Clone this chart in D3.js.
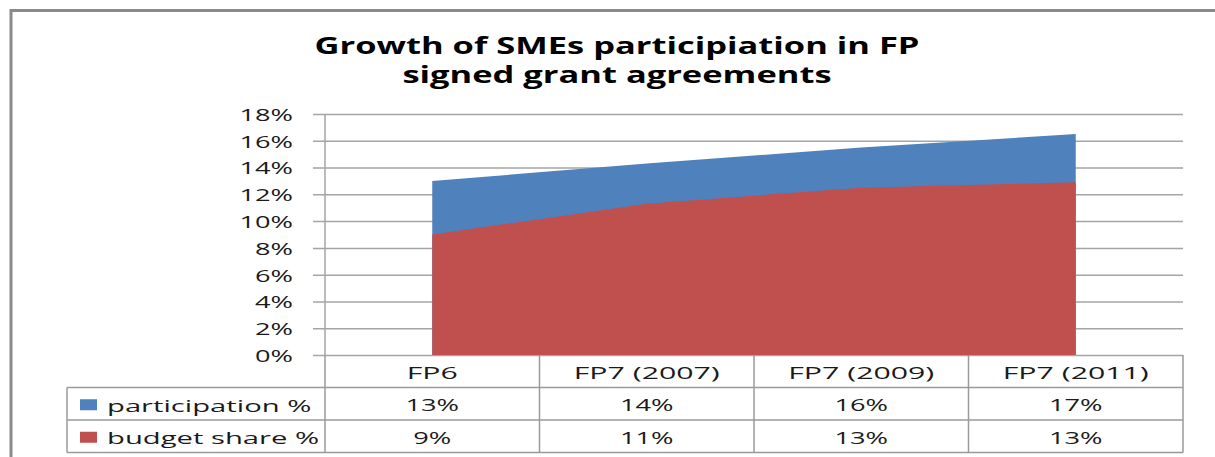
<!DOCTYPE html>
<html>
<head>
<meta charset="utf-8">
<script src="https://cdn.jsdelivr.net/npm/d3@7"></script>
<style>
  html, body { margin: 0; padding: 0; background: #fff; }
  svg { display: block; }
  text { font-family: "Open Sans", "Noto Sans", sans-serif; fill: #1a1a1a; }
</style>
</head>
<body>
<svg id="chart" width="1215" height="457"></svg>
<script>
// ---- data ----
const categories = ["FP6", "FP7 (2007)", "FP7 (2009)", "FP7 (2011)"];
const participation = [13.0, 14.3, 15.5, 16.5];
const budgetShare = [9.0, 11.3, 12.5, 12.9];
const seriesNames = ["participation %", "budget share %"];
const yTicks = [0, 2, 4, 6, 8, 10, 12, 14, 16, 18];
const titleLines = ["Growth of SMEs participiation in FP", "signed grant agreements"];

// ---- layout ----
const svg = d3.select("#chart");
const W = 1215, H = 457;
const plot = { left: 325, right: 1183, top: 114, bottom: 355 };
const table = { legendLeft: 67, rowH: 32.5 };
const colors = ["#4F81BD", "#C0504D"];
const gridColor = "#a5a5a5";
const tableColor = "#9a9a9a";
const SX_NUM = 1.6;   // horizontal stretch of numeric labels
const SX_SER = 1.72;  // stretch of series names
const SX_CAT = 1.78;  // stretch of category names
const TSX = 1.5;      // stretch for the title

function stretchedText(parent, x, y, str, opts) {
  const o = Object.assign({ size: 17, anchor: "middle", sx: SX_NUM, weight: "normal", baseline: "central" }, opts || {});
  return parent.append("text")
    .attr("transform", `translate(${x},${y}) scale(${o.sx},1)`)
    .attr("text-anchor", o.anchor)
    .attr("dominant-baseline", o.baseline)
    .style("font-size", o.size + "px")
    .style("font-weight", o.weight)
    .text(str);
}

// outer frame (extends past the picture right/bottom)
svg.append("rect")
  .attr("x", 11).attr("y", 10.5)
  .attr("width", W + 50).attr("height", H + 50)
  .attr("fill", "none").attr("stroke", "#8a8a8a").attr("stroke-width", 3);

// title
titleLines.forEach((t, i) => {
  stretchedText(svg, 617, 54 + i * 29, t, { size: 23, weight: "bold", sx: TSX, baseline: "alphabetic" })
    .style("fill", "#000");
});

// scales
const x = d3.scaleBand().domain(categories).range([plot.left, plot.right]).padding(0);
const y = d3.scaleLinear().domain([0, 18]).range([plot.bottom, plot.top]);
const cx = c => x(c) + x.bandwidth() / 2;

// gridlines (with outside tick marks)
const gy = svg.append("g").attr("transform", `translate(${plot.right},0)`);
gy.call(d3.axisLeft(y).tickValues(yTicks).tickSize(plot.right - plot.left + 12).tickFormat(""));
gy.select(".domain").remove();
gy.selectAll(".tick line").attr("stroke", gridColor).attr("stroke-width", 1.5);

// y tick labels
yTicks.forEach(v => {
  stretchedText(svg, 293, y(v) + 0.5, v + "%", { anchor: "end" });
});

// areas (participation behind budget share)
const series = [participation, budgetShare];
const area = d3.area()
  .x(d => cx(d.c))
  .y0(y(0))
  .y1(d => y(d.v));
series.forEach((vals, si) => {
  const pts = categories.map((c, i) => ({ c, v: vals[i] }));
  svg.append("path").datum(pts).attr("d", area).attr("fill", colors[si]);
});

// y axis line
svg.append("line")
  .attr("x1", plot.left).attr("x2", plot.left)
  .attr("y1", plot.top).attr("y2", plot.bottom)
  .attr("stroke", gridColor).attr("stroke-width", 1.5);

// ---- data table ----
const tg = svg.append("g").attr("stroke", tableColor).attr("stroke-width", 1.5);
const rowY = [plot.bottom, plot.bottom + table.rowH, plot.bottom + 2 * table.rowH, plot.bottom + 3 * table.rowH];
[1, 2, 3].forEach(r => {
  tg.append("line").attr("x1", table.legendLeft).attr("x2", plot.right)
    .attr("y1", rowY[r]).attr("y2", rowY[r]);
});
categories.forEach(c => {
  tg.append("line").attr("x1", x(c)).attr("x2", x(c)).attr("y1", rowY[0]).attr("y2", rowY[3]);
});
tg.append("line").attr("x1", plot.right).attr("x2", plot.right).attr("y1", rowY[0]).attr("y2", rowY[3]);
tg.append("line").attr("x1", table.legendLeft).attr("x2", table.legendLeft).attr("y1", rowY[1]).attr("y2", rowY[3]);

// header
categories.forEach(c => {
  stretchedText(svg, cx(c), (rowY[0] + rowY[1]) / 2 + 1, c, { sx: SX_CAT });
});
// rows
series.forEach((vals, si) => {
  const yc = (rowY[si + 1] + rowY[si + 2]) / 2 + 1;
  svg.append("rect")
    .attr("x", 80).attr("y", yc - 5.5).attr("width", 17).attr("height", 11)
    .attr("fill", colors[si]);
  stretchedText(svg, 107, yc, seriesNames[si], { anchor: "start", sx: SX_SER });
  categories.forEach((c, i) => {
    stretchedText(svg, cx(c), yc, Math.round(vals[i]) + "%");
  });
});
</script>
</body>
</html>
